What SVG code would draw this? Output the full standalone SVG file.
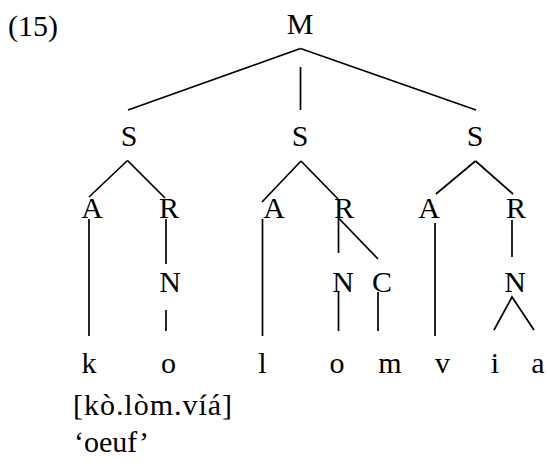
<svg xmlns="http://www.w3.org/2000/svg" width="549" height="462" viewBox="0 0 549 462">
  <style>
    text { font-family: "Liberation Serif", "Times New Roman", serif; font-size: 30px; fill: #000; }
    .n { text-anchor: middle; }
    .edge { stroke: #000; stroke-width: 1.7; fill: none; stroke-linecap: butt; }
  </style>
  <rect width="549" height="462" fill="#fff"/>

  <text id="label" x="8" y="36">(15)</text>

  <!-- connectors -->
  <g id="edges" class="edge">
    <!-- M to syllables -->
    <line x1="300.5" y1="48.5" x2="128" y2="110"/>
    <line x1="300.5" y1="67" x2="300.5" y2="110"/>
    <line x1="300.5" y1="48.5" x2="476" y2="110"/>
    <!-- syllable 1 -->
    <line x1="127.5" y1="160.5" x2="89" y2="197"/>
    <line x1="127.5" y1="160.5" x2="165" y2="198"/>
    <line x1="89" y1="219" x2="89" y2="336"/>
    <line x1="166" y1="219" x2="166" y2="264"/>
    <line x1="166" y1="310" x2="166" y2="331"/>
    <!-- syllable 2 -->
    <line x1="301" y1="161" x2="262" y2="202"/>
    <line x1="301" y1="161" x2="338" y2="199"/>
    <line x1="262.5" y1="219" x2="262.5" y2="336"/>
    <line x1="338.5" y1="218" x2="338.5" y2="253"/>
    <line x1="338.5" y1="218" x2="378" y2="259"/>
    <line x1="338.5" y1="292" x2="338.5" y2="331"/>
    <line x1="378" y1="292" x2="378" y2="331"/>
    <!-- syllable 3 -->
    <line x1="475.5" y1="161" x2="436" y2="194"/>
    <line x1="475.5" y1="161" x2="513" y2="194"/>
    <line x1="435" y1="223" x2="435" y2="336"/>
    <line x1="512" y1="220" x2="512" y2="257"/>
    <polyline points="494,330 512,297 534,330"/>
  </g>

  <g id="M"><text class="n" x="300" y="34">M</text></g>

  <g id="S1"><text class="n" x="129" y="146">S</text></g>
  <g id="S2"><text class="n" x="300" y="146">S</text></g>
  <g id="S3"><text class="n" x="475" y="146">S</text></g>

  <g id="A1"><text class="n" x="92" y="218">A</text></g>
  <g id="R1"><text class="n" x="169" y="218">R</text></g>
  <g id="A2"><text class="n" x="274" y="218">A</text></g>
  <g id="R2"><text class="n" x="344" y="218">R</text></g>
  <g id="A3"><text class="n" x="429" y="218">A</text></g>
  <g id="R3"><text class="n" x="516" y="218">R</text></g>

  <g id="N1"><text class="n" x="170" y="291.5">N</text></g>
  <g id="N2"><text class="n" x="343" y="291.5">N</text></g>
  <g id="C2"><text class="n" x="382" y="291.5">C</text></g>
  <g id="N3"><text class="n" x="515" y="291.5">N</text></g>

  <g id="seg-k"><text class="n" x="89" y="372.5">k</text></g>
  <g id="seg-o1"><text class="n" x="168.5" y="372.5">o</text></g>
  <g id="seg-l"><text class="n" x="262.5" y="372.5">l</text></g>
  <g id="seg-o2"><text class="n" x="337" y="372.5">o</text></g>
  <g id="seg-m"><text class="n" x="390" y="372.5">m</text></g>
  <g id="seg-v"><text class="n" x="442.5" y="372.5">v</text></g>
  <g id="seg-i"><text class="n" x="495" y="372.5">i</text></g>
  <g id="seg-a"><text class="n" x="538" y="372.5">a</text></g>

  <g id="transcription"><text x="73" y="415" textLength="159" lengthAdjust="spacing">[kò.lòm.víá]</text></g>
  <g id="gloss"><text x="74" y="452">‘oeuf’</text></g>
</svg>
